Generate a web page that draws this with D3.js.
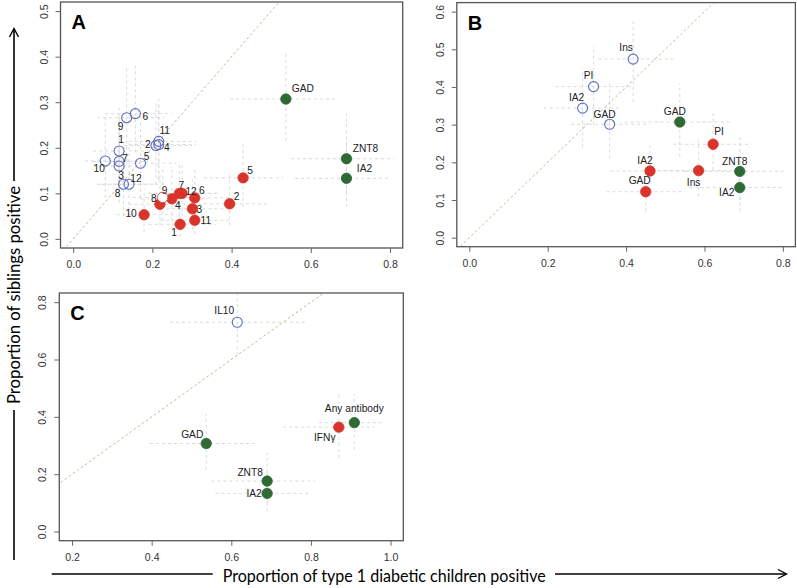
<!DOCTYPE html>
<html><head><meta charset="utf-8">
<script src="https://cdn.jsdelivr.net/npm/d3@7"></script>
<style>body{margin:0;background:#fff}svg{display:block}</style>
</head><body>
<svg id="c" width="797" height="588"></svg>
<script>
// ---------- DATA ----------
// Panel A: numbered groups (1..12); siblings vs children proportions
const aLabels = ["1","2","3","4","5","6","7","8","9","10","11","12"];
const aBlueX = [0.116,0.209,0.116,0.216,0.170,0.157,0.116,0.127,0.135,0.081,0.216,0.141];
const aBlueY = [0.193,0.205,0.160,0.207,0.166,0.275,0.170,0.120,0.266,0.171,0.214,0.120];
const aBlueXlo = [0.05,0.13,0.05,0.14,0.09,0.08,0.05,0.06,0.06,0.03,0.14,0.07];
const aBlueXhi = [0.19,0.30,0.19,0.31,0.26,0.25,0.19,0.21,0.23,0.16,0.31,0.23];
const aBlueYlo = [0.11,0.12,0.08,0.13,0.09,0.19,0.09,0.05,0.17,0.09,0.13,0.05];
const aBlueYhi = [0.29,0.30,0.25,0.30,0.26,0.38,0.27,0.21,0.38,0.27,0.31,0.21];
const aRedX = [0.270,0.395,0.301,0.249,0.429,0.307,0.268,0.219,0.226,0.179,0.307,0.275];
const aRedY = [0.032,0.077,0.066,0.088,0.134,0.090,0.100,0.076,0.091,0.053,0.041,0.100];
const aRedXlo = [0.19,0.30,0.22,0.17,0.33,0.22,0.19,0.14,0.15,0.11,0.22,0.19];
const aRedXhi = [0.36,0.49,0.39,0.34,0.53,0.40,0.36,0.31,0.31,0.26,0.40,0.37];
const aRedYlo = [0.005,0.03,0.02,0.04,0.07,0.04,0.05,0.03,0.04,0.015,0.01,0.05];
const aRedYhi = [0.09,0.14,0.13,0.16,0.21,0.16,0.17,0.14,0.16,0.11,0.10,0.17];
const aRedFilled = [1,1,1,1,1,1,1,1,0,1,1,1];

// Antibodies (green), shared by panels
const abLabels = ["GAD","ZNT8","IA2"];
const abX = [0.537,0.690,0.690];
const abY = [0.307,0.176,0.133];
const abXlo = [0.396,0.55,0.56];
const abXhi = [0.665,0.81,0.80];
const abYlo = [0.215,0.10,0.07];
const abYhi = [0.41,0.275,0.21];

// Panel B: antigens
const bLabels = ["Ins","PI","IA2","GAD"];
const bBlueX = [0.418,0.317,0.289,0.358];
const bBlueY = [0.474,0.401,0.344,0.301];
const bBlueXlo = [0.33,0.22,0.19,0.26];
const bBlueXhi = [0.52,0.42,0.39,0.46];
const bBlueYlo = [0.36,0.30,0.24,0.21];
const bBlueYhi = [0.58,0.51,0.45,0.41];
const bRedLabels = ["PI","IA2","Ins","GAD"];
const bRedX = [0.622,0.461,0.585,0.450];
const bRedY = [0.248,0.177,0.178,0.122];
const bRedXlo = [0.52,0.36,0.48,0.35];
const bRedXhi = [0.72,0.56,0.69,0.55];
const bRedYlo = [0.18,0.11,0.11,0.07];
const bRedYhi = [0.33,0.25,0.26,0.19];

// Panel C: cytokines
const cBlueLabels = ["IL10"];
const cBlueX = [0.615], cBlueY = [0.730];
const cBlueXlo = [0.446], cBlueXhi = [0.785], cBlueYlo = [0.615], cBlueYhi = [0.83];
const cRedLabels = ["IFNγ"];
const cRedX = [0.870], cRedY = [0.364];
const cRedXlo = [0.73], cRedXhi = [0.96], cRedYlo = [0.257], cRedYhi = [0.477];
const cAnyLabels = ["Any antibody"];
const cAnyX = [0.909], cAnyY = [0.380];
const cAnyXlo = [0.82], cAnyXhi = [0.98], cAnyYlo = [0.285], cAnyYhi = [0.477];

const ticksA_x = [0,0.2,0.4,0.6,0.8], ticksA_y = [0,0.1,0.2,0.3,0.4,0.5];
const ticksB_x = [0,0.2,0.4,0.6,0.8], ticksB_y = [0,0.1,0.2,0.3,0.4,0.5,0.6];
const ticksC_x = [0.2,0.4,0.6,0.8,1.0], ticksC_y = [0,0.2,0.4,0.6,0.8];
const xAxisTitle = "Proportion of type 1 diabetic children positive";
const yAxisTitle = "Proportion of siblings positive";

// ---------- STYLE / LAYOUT ----------
const BLUE = "#5f6fbf", RED = "#d9342b", GREEN = "#2f6a34";
const svg = d3.select("#c");
const FONT = "'Liberation Sans', Arial, Helvetica, sans-serif";

function series(labels, X, Y, Xlo, Xhi, Ylo, Yhi, kind, offsets, filled) {
  return labels.map((l,i)=>({label:l,x:X[i],y:Y[i],xlo:Xlo[i],xhi:Xhi[i],ylo:Ylo[i],yhi:Yhi[i],
    kind, off: offsets[i], filled: filled ? filled[i] : 1}));
}

// label offsets (pixels, label center relative to point)
const offABlue = [[2,-11],[-8,-1],[2,9],[8,3],[6,-7],[10,3],[6,-3],[-6,9],[-6,9],[-6,8],[6,-11],[7,-6]];
const offARed = [[-6,8],[7,-7],[7,1],[6,7],[7,-7],[7,-7],[2,-8],[-6,-6],[2,-7],[-13,-1],[11,0],[9,-2]];
const offAb = [[17,-11],[19,-10],[18,-10]];
const offBBlue = [[-7,-12],[-5,-11],[-6,-11],[-5,-10]];
const offBRed = [[6,-13],[-5,-10],[-5,12],[-6,-11]];
const offBAb = [[-5,-11],[-5,-10],[-13,5]];
const offCAb = [[-14,-9],[-17,-9],[-13,0]];

const panels = [
  { letter:"A", xd:[-0.032,0.832], xr:[60.5,402.7], yd:[-0.02,0.52], yr:[248,2], xt:ticksA_x, yt:ticksA_y, diag:[-0.05,0.9],
    pts: [].concat(
      series(aLabels,aBlueX,aBlueY,aBlueXlo,aBlueXhi,aBlueYlo,aBlueYhi,"blue",offABlue),
      series(aLabels,aRedX,aRedY,aRedXlo,aRedXhi,aRedYlo,aRedYhi,"red",offARed,aRedFilled),
      series(abLabels,abX,abY,abXlo,abXhi,abYlo,abYhi,"green",offAb)) },
  { letter:"B", xd:[-0.032,0.832], xr:[456.8,795.4], yd:[-0.024,0.624], yr:[246.7,2.6], xt:ticksB_x, yt:ticksB_y, diag:[-0.05,0.9],
    pts: [].concat(
      series(bLabels,bBlueX,bBlueY,bBlueXlo,bBlueXhi,bBlueYlo,bBlueYhi,"blue",offBBlue),
      series(bRedLabels,bRedX,bRedY,bRedXlo,bRedXhi,bRedYlo,bRedYhi,"red",offBRed),
      series(abLabels,abX,abY,abXlo,abXhi,abYlo,abYhi,"green",offBAb)) },
  { letter:"C", xd:[0.168,1.032], xr:[59.3,403.3], yd:[-0.032,0.832], yr:[540.7,293], xt:ticksC_x, yt:ticksC_y, diag:[0.1,1.1],
    pts: [].concat(
      series(cBlueLabels,cBlueX,cBlueY,cBlueXlo,cBlueXhi,cBlueYlo,cBlueYhi,"blue",[[-13,-12]]),
      series(abLabels,abX,abY,abXlo,abXhi,abYlo,abYhi,"green",offCAb),
      series(cRedLabels,cRedX,cRedY,cRedXlo,cRedXhi,cRedYlo,cRedYhi,"red",[[-14,10]]),
      series(cAnyLabels,cAnyX,cAnyY,cAnyXlo,cAnyXhi,cAnyYlo,cAnyYhi,"green",[[0,-14]])) }
];

panels.forEach((p,pi)=>{
  const x = d3.scaleLinear().domain(p.xd).range(p.xr);
  const y = d3.scaleLinear().domain(p.yd).range(p.yr);
  const g = svg.append("g");
  const cid = "clip"+pi;
  svg.append("clipPath").attr("id",cid).append("rect")
    .attr("x",p.xr[0]).attr("y",p.yr[1]).attr("width",p.xr[1]-p.xr[0]).attr("height",p.yr[0]-p.yr[1]);
  const inner = g.append("g").attr("clip-path",`url(#${cid})`);

  // error bars
  const eb = inner.append("g").attr("stroke","#d6d6d6").attr("stroke-width",0.9).attr("stroke-dasharray","3,3").attr("fill","none");
  eb.selectAll("line.h").data(p.pts).join("line").attr("class","h")
    .attr("x1",d=>x(d.xlo)).attr("x2",d=>x(d.xhi)).attr("y1",d=>y(d.y)).attr("y2",d=>y(d.y));
  eb.selectAll("line.v").data(p.pts).join("line").attr("class","v")
    .attr("x1",d=>x(d.x)).attr("x2",d=>x(d.x)).attr("y1",d=>y(d.ylo)).attr("y2",d=>y(d.yhi));

  // diagonal y = x
  inner.append("line").attr("x1",x(p.diag[0])).attr("y1",y(p.diag[0])).attr("x2",x(p.diag[1])).attr("y2",y(p.diag[1]))
    .attr("stroke","#c4b78c").attr("stroke-width",1).attr("stroke-dasharray","2.5,2.5");

  // points
  g.selectAll("circle.pt").data(p.pts).join("circle").attr("class","pt")
    .attr("cx",d=>x(d.x)).attr("cy",d=>y(d.y)).attr("r",d=>d.kind==="blue"?5:5.2)
    .attr("fill",d=>d.kind==="blue"?"none":(d.filled? (d.kind==="red"?RED:GREEN) : "#fff"))
    .attr("stroke",d=>d.kind==="blue"?BLUE:(d.kind==="red"?RED:GREEN))
    .attr("stroke-width",d=>d.kind==="blue"?1.1:0.8);

  // point labels
  g.selectAll("text.lbl").data(p.pts).join("text").attr("class","lbl")
    .attr("x",d=>x(d.x)+d.off[0]).attr("y",d=>y(d.y)+d.off[1])
    .attr("text-anchor","middle").attr("dominant-baseline","central")
    .attr("font-family",FONT).attr("font-size",10.2).attr("fill","#222")
    .text(d=>d.label);

  // box
  g.append("rect").attr("x",p.xr[0]).attr("y",p.yr[1]).attr("width",p.xr[1]-p.xr[0]).attr("height",p.yr[0]-p.yr[1])
    .attr("fill","none").attr("stroke","#555").attr("stroke-width",1.3);

  // axes
  const ax = g.append("g").attr("transform",`translate(0,${p.yr[0]})`)
    .call(d3.axisBottom(x).tickValues(p.xt).tickFormat(d3.format(".1f")).tickSize(5).tickSizeOuter(0).tickPadding(8));
  const ay = g.append("g").attr("transform",`translate(${p.xr[0]},0)`)
    .call(d3.axisLeft(y).tickValues(p.yt).tickFormat(d3.format(".1f")).tickSize(5).tickSizeOuter(0));
  [ax,ay].forEach(a=>{
    a.select(".domain").remove();
    a.selectAll(".tick line").attr("stroke","#666");
    a.selectAll("text").attr("font-family",FONT).attr("font-size",10.5).attr("fill","#333");
  });
  ay.selectAll(".tick text").attr("x",null).attr("dy",null)
    .attr("text-anchor","middle").attr("dominant-baseline","central")
    .attr("transform","translate(-17,0) rotate(-90)");

  // panel letter
  g.append("text").attr("x",p.xr[0]+11).attr("y",p.yr[1]+27)
    .attr("font-family",FONT).attr("font-weight","bold").attr("font-size",20).attr("fill","#000").text(p.letter);
});

// outer axis titles with arrows
const titleFont = "Lato, 'Open Sans', sans-serif";
svg.append("line").attr("x1",51.7).attr("x2",212.7).attr("y1",574).attr("y2",574).attr("stroke","#000").attr("stroke-width",1.6);
svg.append("line").attr("x1",555).attr("x2",786).attr("y1",574).attr("y2",574).attr("stroke","#000").attr("stroke-width",1.6);
svg.append("path").attr("d","M778,569.5 L786.5,574 L778,578.5").attr("fill","none").attr("stroke","#000").attr("stroke-width",1.4);
svg.append("text").attr("x",222.7).attr("y",582).attr("font-family",titleFont).attr("font-size",18).attr("fill","#000")
  .attr("textLength",323).attr("lengthAdjust","spacingAndGlyphs").text(xAxisTitle);

svg.append("line").attr("x1",14).attr("x2",14).attr("y1",560).attr("y2",410).attr("stroke","#000").attr("stroke-width",1.6);
svg.append("line").attr("x1",14).attr("x2",14).attr("y1",181).attr("y2",29).attr("stroke","#000").attr("stroke-width",1.6);
svg.append("path").attr("d","M9.5,37 L14,28.5 L18.5,37").attr("fill","none").attr("stroke","#000").attr("stroke-width",1.4);
svg.append("text").attr("transform","translate(20,404) rotate(-90)").attr("font-family",titleFont).attr("font-size",18).attr("fill","#000")
  .attr("textLength",218).attr("lengthAdjust","spacingAndGlyphs").text(yAxisTitle);
</script>
</body></html>
